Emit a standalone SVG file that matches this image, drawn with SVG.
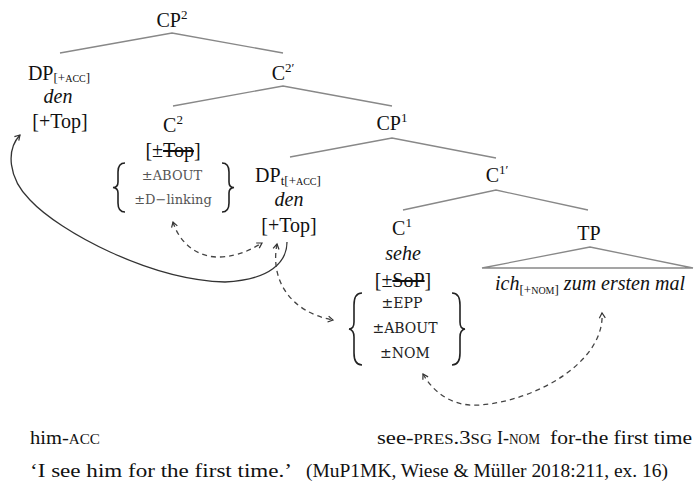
<svg xmlns="http://www.w3.org/2000/svg" width="695" height="488" viewBox="0 0 695 488">
<style>
text{font-family:"Liberation Serif","Times New Roman",serif;fill:#111;}
.n{font-size:20px;text-anchor:middle;}
.i{font-style:italic;}
.sup{font-size:13px;}
.sub{font-size:13px;}
.sc{font-size:10px;}
.f1{font-family:"DejaVu Serif",serif;font-size:13px;fill:#555;text-anchor:middle;}
.f2{font-family:"DejaVu Serif",serif;font-size:14px;fill:#222;text-anchor:middle;}
.br{fill:none;stroke:#222;stroke-width:1.6;}
.edge{stroke:#888;stroke-width:1.3;fill:none;}
.dash{stroke:#444;stroke-width:1.3;fill:none;stroke-dasharray:5 4;}
.solid{stroke:#333;stroke-width:1.3;fill:none;}
.g{font-size:19px;}
.gs{font-size:14px;}
.st{text-decoration:line-through;}
</style>
<defs>
<marker id="ah" viewBox="0 0 8 8" refX="6" refY="4" markerWidth="8" markerHeight="8" markerUnits="userSpaceOnUse" orient="auto-start-reverse">
<path d="M1,1 L6,4 L1,7" fill="none" stroke="#333" stroke-width="1.2" stroke-dasharray="none"/>
</marker>
</defs>
<g id="edges">
<path class="edge" d="M60,53 L172,33 L283,53"/>
<path class="edge" d="M173,106 L283,86 L392,106"/>
<path class="edge" d="M290,157 L392,138 L496,158"/>
<path class="edge" d="M403,210 L496,190 L588,210"/>
<path class="edge" d="M590,247 L482,268 L693,268 Z"/>
<path class="solid" marker-end="url(#ah)" d="M287,242 C287,262 270,280 225,282 C150,280 60,232 30,200 C8,178 6,150 20,135"/>
<path class="dash" marker-start="url(#ah)" marker-end="url(#ah)" d="M173,222 C180,245 200,258 220,257 C240,256 252,249 262,243"/>
<path class="dash" marker-start="url(#ah)" marker-end="url(#ah)" d="M277,244 C270,280 290,312 333,320"/>
<path class="dash" marker-start="url(#ah)" marker-end="url(#ah)" d="M423,374 C435,395 455,407 480,405 C540,400 605,360 602,313"/>
</g>
<g id="cp2"><text class="n" x="172" y="27">CP<tspan class="sup" dy="-8">2</tspan></text></g>
<g id="dp-acc">
<text class="n" x="59" y="80">DP<tspan class="sub" dy="2">[+</tspan><tspan class="sc">ACC</tspan><tspan class="sub">]</tspan></text>
<text class="n i" x="58" y="103">den</text>
<text class="n" x="60" y="128">[+Top]</text>
</g>
<g id="c2bar"><text class="n" x="283" y="80">C<tspan class="sup" dy="-8">2′</tspan></text></g>
<g id="c2">
<text class="n" x="173" y="132">C<tspan class="sup" dy="-8">2</tspan></text>
<text class="n" x="173" y="157">[±<tspan class="st">Top</tspan>]</text>
<path class="br" d="M125,163 Q118,163 118,172 L118,182 Q118,187.5 113,187.5 Q118,188 118,193 L118,203 Q118,212 125,212"/>
<text class="f1" x="172" y="180">±ABOUT</text>
<text class="f1" x="173" y="204">±D−linking</text>
<path class="br" d="M222,163 Q229,163 229,172 L229,182 Q229,187.5 234,187.5 Q229,188 229,193 L229,203 Q229,212 222,212"/>
</g>
<g id="cp1"><text class="n" x="392" y="130">CP<tspan class="sup" dy="-8">1</tspan></text></g>
<g id="dpt">
<text class="n" x="288" y="182">DP<tspan class="sub" dy="3">t[+</tspan><tspan class="sc">ACC</tspan><tspan class="sub">]</tspan></text>
<text class="n i" x="289" y="206">den</text>
<text class="n" x="289" y="232">[+Top]</text>
</g>
<g id="c1bar"><text class="n" x="497" y="182">C<tspan class="sup" dy="-8">1′</tspan></text></g>
<g id="c1">
<text class="n" x="402" y="235">C<tspan class="sup" dy="-8">1</tspan></text>
<text class="n i" x="403" y="260">sehe</text>
<text class="n" x="403" y="287">[±<tspan class="st">SoP</tspan>]</text>
<path class="br" d="M362,293 Q354,293 354,305 L354,322 Q354,329 349,329 Q354,330 354,337 L354,353 Q354,365 362,365"/>
<text class="f2" x="402" y="308">±EPP</text>
<text class="f2" x="405" y="333">±ABOUT</text>
<text class="f2" x="405" y="358">±NOM</text>
<path class="br" d="M452,293 Q460,293 460,305 L460,322 Q460,329 465,329 Q460,330 460,337 L460,353 Q460,365 452,365"/>
</g>
<g id="tp">
<text class="n" x="589" y="240">TP</text>
<text class="n i" x="590" y="290">ich<tspan class="sub" dy="4" font-style="normal">[+</tspan><tspan class="sc" font-style="normal">NOM</tspan><tspan class="sub" font-style="normal">]</tspan><tspan dy="-4"> zum ersten mal</tspan></text>
</g>
<g id="gloss">
<text class="g" x="30" y="444" textLength="70" lengthAdjust="spacingAndGlyphs">him-<tspan class="gs">ACC</tspan></text>
<text class="g" x="377" y="444" textLength="115" lengthAdjust="spacingAndGlyphs">see-<tspan class="gs">PRES</tspan>.3<tspan class="gs">SG</tspan></text>
<text class="g" x="497" y="444" textLength="43" lengthAdjust="spacingAndGlyphs">I-<tspan class="gs">NOM</tspan></text>
<text class="g" x="550" y="444" textLength="142" lengthAdjust="spacingAndGlyphs">for-the first time</text>
<text class="g" x="30" y="477" textLength="262" lengthAdjust="spacingAndGlyphs">‘I see him for the first time.’</text>
<text class="g" x="306" y="477" textLength="362" lengthAdjust="spacingAndGlyphs">(MuP1MK, Wiese &amp; Müller 2018:211, ex. 16)</text>
</g>
</svg>
